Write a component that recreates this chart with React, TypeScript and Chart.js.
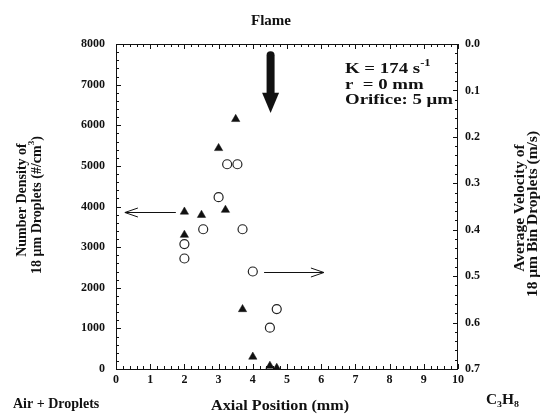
import React, { useEffect, useRef } from "react";
import { Chart, registerables } from "chart.js";

Chart.register(...registerables);

// Axial position (mm) of the filled triangles (number density, left axis)
const triangleX = [2.0, 2.5, 3.2, 2.0, 3.0, 3.5, 3.7, 4.0, 4.5, 4.7];
const triangleDensity = [3870, 3790, 3915, 3300, 5435, 6150, 1470, 300, 75, 25];

// Axial position (mm) of the open circles (velocity, right axis, reversed)
const circleX = [3.25, 3.55, 3.0, 2.0, 2.0, 2.55, 3.7, 4.0, 4.7, 4.5];
const circleVelocity = [0.259, 0.259, 0.33, 0.431, 0.462, 0.399, 0.399, 0.49, 0.571, 0.611];

const xRange = [0, 10];
const densityRange = [0, 8000];
const velocityRange = [0, 0.7];

const SERIF = "'Liberation Serif', 'DejaVu Serif', serif";

type Part = { t: string; sup?: boolean; sub?: boolean };

function partFont(size: number, p: Part) {
  const s = p.sup || p.sub ? Math.round(size * 0.65) : size;
  return `bold ${s}px ${SERIF}`;
}

function richWidth(ctx: CanvasRenderingContext2D, parts: Part[], size: number) {
  let w = 0;
  for (const p of parts) {
    ctx.font = partFont(size, p);
    w += ctx.measureText(p.t).width;
  }
  return w;
}

function drawRich(
  ctx: CanvasRenderingContext2D,
  parts: Part[],
  x: number,
  y: number,
  size: number,
  align: "left" | "center",
  scaleX = 1
) {
  const w = richWidth(ctx, parts, size);
  ctx.save();
  ctx.translate(x, y);
  ctx.scale(scaleX, 1);
  let cx = align === "center" ? -w / 2 : 0;
  ctx.textAlign = "left";
  ctx.textBaseline = "middle";
  for (const p of parts) {
    ctx.font = partFont(size, p);
    const dy = p.sup ? -size * 0.38 : p.sub ? size * 0.3 : 0;
    ctx.fillText(p.t, cx, dy);
    cx += ctx.measureText(p.t).width;
  }
  ctx.restore();
}

function drawRotated(
  ctx: CanvasRenderingContext2D,
  parts: Part[],
  cx: number,
  cy: number,
  size: number
) {
  ctx.save();
  ctx.translate(cx, cy);
  ctx.rotate(-Math.PI / 2);
  drawRich(ctx, parts, 0, 0, size, "center");
  ctx.restore();
}

const decoPlugin = {
  id: "deco",
  afterDraw(chart: any) {
    const { ctx, chartArea: a, scales } = chart;
    const sx = scales.x;
    const sy = scales.y;
    const sy2 = scales.y2;
    ctx.save();
    ctx.strokeStyle = "#111";
    ctx.fillStyle = "#111";
    ctx.lineWidth = 1;

    // frame
    ctx.strokeRect(a.left + 0.5, a.top + 0.5, a.right - a.left - 1, a.bottom - a.top);

    // x ticks (top & bottom), inward
    ctx.beginPath();
    for (let i = 0; i <= 50; i++) {
      const px = Math.round(sx.getPixelForValue(i * 0.2)) + 0.5;
      const len = i % 5 === 0 ? 5 : 3;
      ctx.moveTo(px, a.bottom);
      ctx.lineTo(px, a.bottom - len);
      ctx.moveTo(px, a.top);
      ctx.lineTo(px, a.top + len);
    }
    // left ticks
    for (let i = 0; i <= 40; i++) {
      const py = Math.round(sy.getPixelForValue(i * 200)) + 0.5;
      const len = i % 5 === 0 ? 5 : 3;
      ctx.moveTo(a.left, py);
      ctx.lineTo(a.left + len, py);
    }
    // right ticks
    for (let i = 0; i <= 35; i++) {
      const py = Math.round(sy2.getPixelForValue(i * 0.02)) + 0.5;
      const len = i % 5 === 0 ? 5 : 3;
      ctx.moveTo(a.right, py);
      ctx.lineTo(a.right - len, py);
    }
    ctx.stroke();

    // left arrow (pointing to left axis)
    const ly = Math.round(sy.getPixelForValue(3870)) + 0.5;
    const lx1 = sx.getPixelForValue(0.26);
    const lx2 = sx.getPixelForValue(1.75);
    ctx.beginPath();
    ctx.moveTo(lx2, ly);
    ctx.lineTo(lx1, ly);
    ctx.moveTo(lx1 + 13, ly - 4.5);
    ctx.lineTo(lx1, ly);
    ctx.lineTo(lx1 + 13, ly + 4.5);
    ctx.stroke();

    // right arrow (pointing to right axis)
    const ry = Math.round(sy2.getPixelForValue(0.49)) + 0.5;
    const rx1 = sx.getPixelForValue(4.33);
    const rx2 = sx.getPixelForValue(6.08);
    ctx.beginPath();
    ctx.moveTo(rx1, ry);
    ctx.lineTo(rx2, ry);
    ctx.moveTo(rx2 - 13, ry - 4.5);
    ctx.lineTo(rx2, ry);
    ctx.lineTo(rx2 - 13, ry + 4.5);
    ctx.stroke();

    // flame down arrow
    const fx = sx.getPixelForValue(4.52);
    const fTop = sy.getPixelForValue(7800);
    const fHead = sy.getPixelForValue(6800);
    const fTip = sy.getPixelForValue(6300);
    ctx.beginPath();
    ctx.lineWidth = 8;
    ctx.lineCap = "round";
    ctx.moveTo(fx, fTop + 3);
    ctx.lineTo(fx, fHead + 2);
    ctx.stroke();
    ctx.lineWidth = 1;
    ctx.beginPath();
    ctx.moveTo(fx - 8.5, fHead);
    ctx.lineTo(fx + 8.5, fHead);
    ctx.lineTo(fx, fTip);
    ctx.closePath();
    ctx.fill();

    // texts
    ctx.fillStyle = "#111";
    drawRich(ctx, [{ t: "Flame" }], 271, 21, 15, "center");

    // annotation box, stretched to the reference's width
    const annSize = 15;
    const orificeParts: Part[] = [{ t: "Orifice: 5 μm" }];
    const annScale = 108 / richWidth(ctx, orificeParts, annSize);
    drawRich(ctx, [{ t: "K = 174 s" }, { t: "-1", sup: true }], 345, 69, annSize, "left", annScale);
    drawRich(ctx, [{ t: "r  = 0 mm" }], 345, 85, annSize, "left", annScale);
    drawRich(ctx, orificeParts, 345, 100, annSize, "left", annScale);

    drawRich(ctx, [{ t: "Air + Droplets" }], 13, 404, 14, "left");
    const axParts: Part[] = [{ t: "Axial Position (mm)" }];
    drawRich(ctx, axParts, 280, 406, 14, "center", 138 / richWidth(ctx, axParts, 14));
    const chParts: Part[] = [{ t: "C" }, { t: "3", sub: true }, { t: "H" }, { t: "8", sub: true }];
    drawRich(ctx, chParts, 486, 400, 14, "left", 33 / richWidth(ctx, chParts, 14));

    drawRotated(ctx, [{ t: "Number Density of" }], 22, 200, 14);
    drawRotated(
      ctx,
      [{ t: "18 μm Droplets (#/cm" }, { t: "3", sup: true }, { t: ")" }],
      37,
      205,
      14
    );
    drawRotated(ctx, [{ t: "Average Velocity of" }], 520, 208, 15.5);
    drawRotated(ctx, [{ t: "18 μm Bin Droplets (m/s)" }], 533, 214, 15.5);

    ctx.restore();
  },
};

export default function App() {
  const ref = useRef<HTMLCanvasElement | null>(null);

  useEffect(() => {
    document.body.style.margin = "0";
    const canvas = ref.current;
    if (!canvas) return;
    const tickFont = { family: SERIF, size: 12, weight: "bold" as const };
    const chart = new Chart(canvas, {
      type: "scatter",
      data: {
        datasets: [
          {
            label: "Number density",
            data: triangleX.map((x, i) => ({ x, y: triangleDensity[i] })),
            yAxisID: "y",
            pointStyle: "triangle",
            radius: 4.8,
            backgroundColor: "#111",
            borderColor: "#111",
            borderWidth: 0.5,
          },
          {
            label: "Velocity",
            data: circleX.map((x, i) => ({ x, y: circleVelocity[i] })),
            yAxisID: "y2",
            pointStyle: "circle",
            radius: 4.5,
            backgroundColor: "#fff",
            borderColor: "#222",
            borderWidth: 1.2,
          },
        ],
      },
      options: {
        animation: false,
        responsive: false,
        devicePixelRatio: 1,
        layout: { padding: { top: 44, left: 0, right: 0, bottom: 0 } },
        plugins: {
          legend: { display: false },
          tooltip: { enabled: false },
          title: { display: false },
        },
        scales: {
          x: {
            type: "linear",
            position: "bottom",
            min: xRange[0],
            max: xRange[1],
            grid: { display: false, drawTicks: false },
            border: { display: false },
            ticks: { stepSize: 1, font: tickFont, color: "#111", padding: 4 },
            afterFit: (s: any) => {
              s.height = 47;
            },
          },
          y: {
            type: "linear",
            position: "left",
            min: densityRange[0],
            max: densityRange[1],
            grid: { display: false, drawTicks: false },
            border: { display: false },
            ticks: {
              stepSize: 1000,
              font: tickFont,
              color: "#111",
              padding: 11,
              callback: (v: any) => String(Math.round(Number(v))),
            },
            afterFit: (s: any) => {
              s.width = 116;
            },
          },
          y2: {
            type: "linear",
            position: "right",
            reverse: true,
            min: velocityRange[0],
            max: velocityRange[1],
            grid: { display: false, drawTicks: false },
            border: { display: false },
            ticks: {
              stepSize: 0.1,
              font: tickFont,
              color: "#111",
              padding: 7,
              callback: (v: any) => Number(v).toFixed(1),
            },
            afterFit: (s: any) => {
              s.width = 82;
            },
          },
        },
      },
      plugins: [decoPlugin],
    });
    return () => chart.destroy();
  }, []);

  return <canvas ref={ref} width={540} height={416} style={{ display: "block" }} />;
}
